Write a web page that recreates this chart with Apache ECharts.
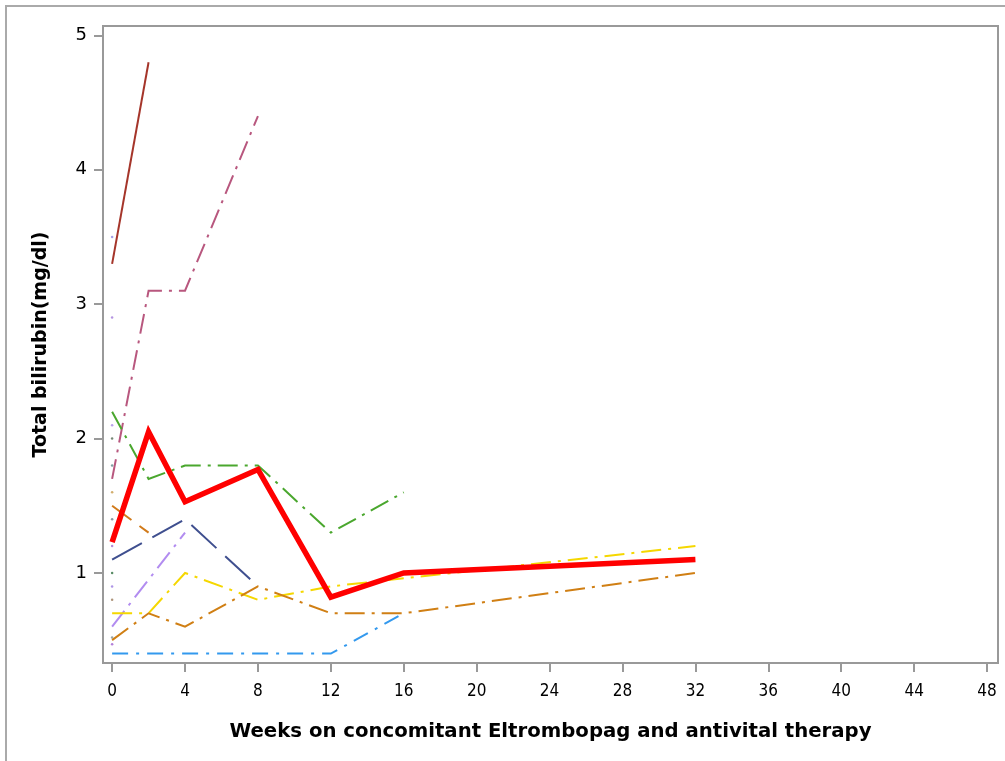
<!DOCTYPE html>
<html>
<head>
<meta charset="utf-8">
<title>Total bilirubin</title>
<script src="https://cdn.jsdelivr.net/npm/echarts@6/dist/echarts.min.js"></script>
<style>
  html, body { margin: 0; padding: 0; background: #fff; }
  #chart { width: 1005px; height: 761px; }
</style>
</head>
<body>
<div id="chart"></div>
<script>
// Visit weeks shared by every patient profile
const weeks = [0, 2, 4, 8, 12, 16, 32];

// Total bilirubin (mg/dl) per patient, aligned with weeks (null = no visit)
const patientA = [3.3, 4.8, null, null, null, null, null];
const patientB = [1.7, 3.1, 3.1, 4.4, null, null, null];
const patientC = [2.2, 1.7, 1.8, 1.8, 1.3, 1.6, null];
const patientD = [1.5, 1.3, null, null, null, null, null];
const patientE = [1.1, null, 1.4, 0.9, null, null, null];
const patientF = [0.6, null, 1.3, null, null, null, null];
const patientG = [0.7, 0.7, 1.0, 0.8, 0.9, 0.96, 1.2];
const patientH = [0.5, 0.7, 0.6, 0.9, 0.7, 0.7, 1.0];
const patientI = [0.4, 0.4, 0.4, 0.4, 0.4, 0.7, null];
const meanValues = [1.23, 2.05, 1.53, 1.77, 0.82, 1.0, 1.1];

// Patients with a baseline value only
const baselineOnly = [3.5, 2.9, 2.1, 2.0, 1.8, 1.6, 1.4, 1.2, 1.0, 0.9, 0.8, 0.52, 0.47];
const baselineColors = ['#8f86e0', '#a27ad8', '#a98ae6', '#556b55', '#5f8a8a', '#c79a4a',
  '#6f7f8f', '#a070d0', '#2f6f3f', '#9a7ae0', '#9a7a5a', '#7f8f8f', '#a060d0'];

// Axis tick labels
const xTicks = [0, 4, 8, 12, 16, 20, 24, 28, 32, 36, 40, 44, 48];
const yTicks = [1, 2, 3, 4, 5];

function pairs(values) {
  return weeks.map((w, i) => [w, values[i]]);
}

function patientLine(values, color, dash, width) {
  return {
    type: 'line',
    data: pairs(values),
    showSymbol: false,
    symbol: 'none',
    connectNulls: true,
    silent: true,
    lineStyle: { color: color, width: width || 2, type: dash, cap: 'butt', join: 'miter' },
    z: 2
  };
}

const dashDot = [20, 7, 3, 7];
const longDash = [34, 12];

const series = [
  patientLine(patientA, '#a5352a', 'solid'),
  patientLine(patientB, '#b8577e', dashDot),
  patientLine(patientC, '#4aa72e', dashDot),
  patientLine(patientD, '#d17a1a', [24, 10]),
  patientLine(patientE, '#3f4f8f', longDash),
  patientLine(patientF, '#b28cf0', dashDot),
  patientLine(patientG, '#f5d700', dashDot),
  patientLine(patientH, '#d07f14', dashDot),
  patientLine(patientI, '#3399ee', [16, 8, 3, 8]),
  {
    type: 'scatter',
    data: baselineOnly.map((v, i) => ({ value: [0, v], itemStyle: { color: baselineColors[i] } })),
    symbolSize: 2.5,
    silent: true,
    z: 1
  },
  Object.assign(patientLine(meanValues, '#ff0000', 'solid', 5.5), { z: 5 })
];

const chart = echarts.init(document.getElementById('chart'), null, { renderer: 'canvas' });
chart.setOption({
  animation: false,
  backgroundColor: '#ffffff',
  graphic: [{
    type: 'rect',
    shape: { x: 6, y: 6, width: 1100, height: 900 },
    style: { fill: 'none', stroke: '#aaaaaa', lineWidth: 2 },
    silent: true,
    z: -10
  }],
  grid: {
    left: 103, top: 26, right: 7, bottom: 98,
    show: true, borderColor: '#999999', borderWidth: 2, backgroundColor: 'transparent'
  },
  xAxis: {
    type: 'value',
    min: -0.5, max: 48.6,
    name: 'Weeks on concomitant Eltrombopag and antivital therapy',
    nameLocation: 'middle',
    nameGap: 59,
    nameTextStyle: { fontFamily: 'DejaVu Sans', fontWeight: 'bold', fontSize: 19.7, color: '#000' },
    splitLine: { show: false },
    axisLine: { show: true, onZero: false, lineStyle: { color: '#999999', width: 2 } },
    axisTick: { show: true, length: 9, customValues: xTicks, lineStyle: { color: '#999999', width: 2 } },
    axisLabel: {
      customValues: xTicks, margin: 20,
      fontFamily: 'DejaVu Sans Condensed', fontSize: 17, color: '#000'
    }
  },
  yAxis: {
    type: 'value',
    min: 0.33, max: 5.07,
    name: 'Total bilirubin(mg/dl)',
    nameLocation: 'middle',
    nameGap: 52,
    nameTextStyle: { fontFamily: 'DejaVu Sans', fontWeight: 'bold', fontSize: 19, color: '#000' },
    splitLine: { show: false },
    axisLine: { show: true, onZero: false, lineStyle: { color: '#999999', width: 2 } },
    axisTick: { show: true, length: 9, customValues: yTicks, lineStyle: { color: '#999999', width: 2 } },
    axisLabel: {
      customValues: yTicks, margin: 16,
      fontFamily: 'DejaVu Sans', fontSize: 18, color: '#000'
    }
  },
  series: series
});
</script>
</body>
</html>
